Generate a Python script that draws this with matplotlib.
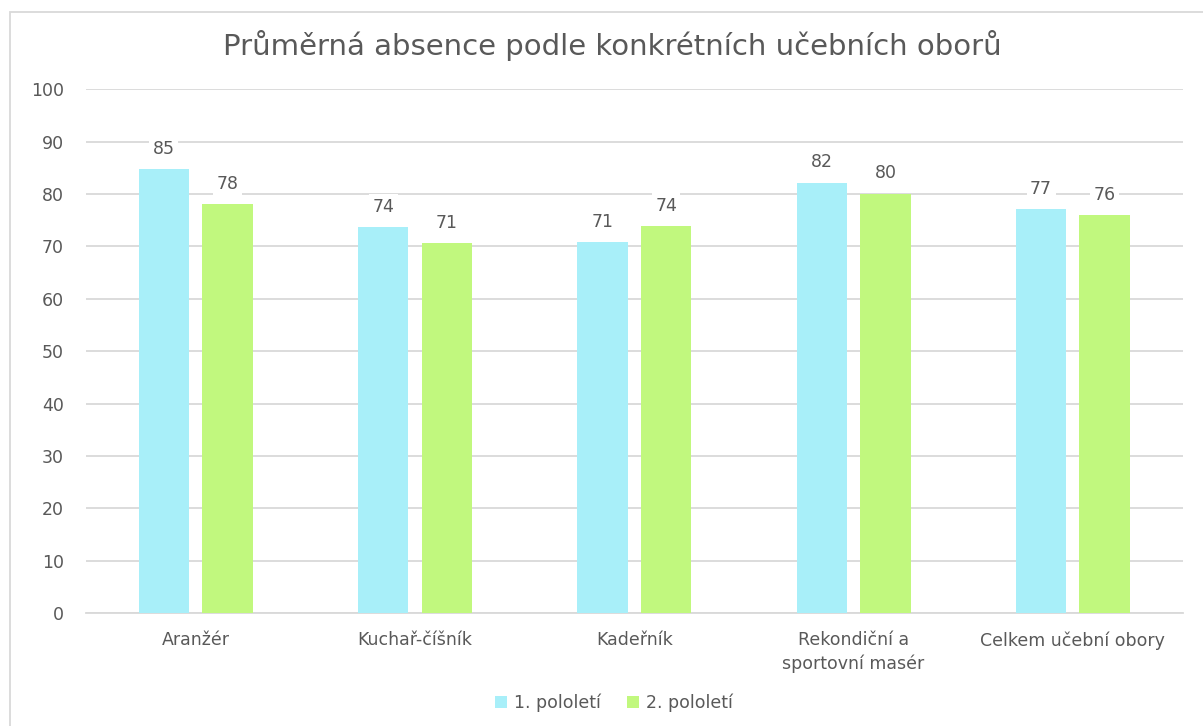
import numpy as np
import matplotlib.pyplot as plt
from matplotlib.patches import Rectangle

obory = ["Aranžér", "Kuchař-číšník", "Kadeřník", "Rekondiční a\nsportovní masér", "Celkem učební obory"]
pololeti_1 = [84.7, 73.7, 70.8, 82.2, 77.2]
pololeti_2 = [78.1, 70.6, 73.9, 80.1, 76.0]
serie = ["1. pololetí", "2. pololetí"]

plt.rcParams['font.family'] = ['DejaVu Sans']
text_col = "#595959"

fig = plt.figure(figsize=(12.03, 7.26), dpi=100)
ax = fig.add_axes([0.0715, 0.1556, 0.9115, 0.7214])

x = np.arange(len(obory))
w = 0.23
b1 = ax.bar(x - 0.145, pololeti_1, w, color="#A8EFF9", label=serie[0], zorder=3)
b2 = ax.bar(x + 0.145, pololeti_2, w, color="#C1F87E", label=serie[1], zorder=3)

for bars in (b1, b2):
    for r in bars:
        ax.annotate("%.0f" % r.get_height(), (r.get_x() + r.get_width() / 2, r.get_height()),
                    xytext=(0, 8), textcoords="offset points", ha="center", va="bottom",
                    fontsize=12.5, color=text_col, zorder=4,
                    bbox=dict(boxstyle="square,pad=0.2", fc="white", ec="none"))

ax.set_xlim(-0.5, len(obory) - 0.5)
ax.set_ylim(0, 100)
ax.set_yticks(range(0, 101, 10))
ax.set_xticks(x)
ax.set_xticklabels(obory, fontsize=12.5, color=text_col, linespacing=1.4)
ax.tick_params(axis="y", length=0, labelsize=12.5, labelcolor=text_col, pad=16)
ax.tick_params(axis="x", length=0, pad=13)
ax.grid(axis="y", color="#D9D9D9", linewidth=1.3, zorder=0)
for s in ("top", "right", "left"):
    ax.spines[s].set_visible(False)
ax.spines["bottom"].set_color("#D9D9D9")
ax.spines["bottom"].set_linewidth(1.3)

fig.text(0.509, 0.937, "Průměrná absence podle konkrétních učebních oborů",
         ha="center", va="center", fontsize=21, color=text_col)

fig.legend(loc="center", bbox_to_anchor=(0.51, 0.032), ncol=2, frameon=False,
           fontsize=12.5, labelcolor=text_col, handlelength=0.7, handleheight=0.7,
           columnspacing=1.5, handletextpad=0.4)

fig.patches.append(Rectangle((10 / 1203, -0.1), 1.2, 1 - 12 / 726 + 0.1,
                             transform=fig.transFigure, fill=False,
                             ec="#D9D9D9", lw=1.3, clip_on=False))

fig.savefig("out.png")
